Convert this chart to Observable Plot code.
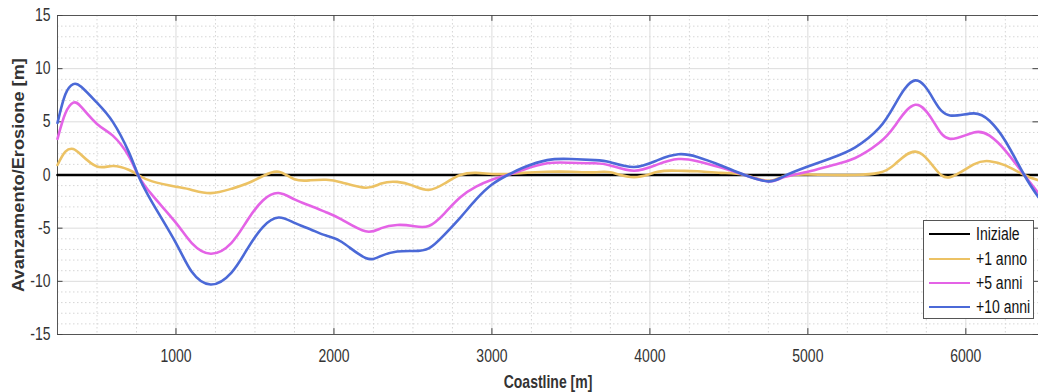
<!DOCTYPE html>
<html>
<head>
<meta charset="utf-8">
<script src="https://cdn.jsdelivr.net/npm/d3@7"></script>
<script src="https://cdn.jsdelivr.net/npm/@observablehq/plot@0.6"></script>
<style>
  html, body { margin: 0; padding: 0; background: #fff; }
  #wrap { position: relative; width: 1038px; height: 392px; font-family: "Liberation Sans", Arial, sans-serif; }
  .chart g[aria-label$="axis label"] { font-weight: bold; }
  #legend { position: absolute; left: 923px; top: 220px; width: 109px; height: 97px; border: 1px solid #555; background: #fff; font-size: 14px; color: #111; }
  #legend .row { position: absolute; left: 5px; height: 20px; display: flex; align-items: center; }
  #legend .sw { width: 41px; height: 0; border-top: 2.6px solid; margin-right: 6px; }
  #legend .lab { display: inline-block; transform: scaleY(1.25); }
</style>
</head>
<body>
<div id="wrap"></div>
<script>
// ---- data ----
const coastline = [250, 300, 350, 400, 500, 600, 700, 760, 850, 1000, 1100, 1220, 1350, 1450, 1550, 1650, 1750, 1850, 1950, 2050, 2200, 2300, 2400, 2500, 2600, 2700, 2800, 2900, 3000, 3100, 3200, 3350, 3500, 3650, 3750, 3900, 4050, 4180, 4300, 4450, 4600, 4750, 4850, 5000, 5150, 5300, 5450, 5550, 5680, 5800, 5900, 6050, 6150, 6250, 6370, 6460];
const anno1 = [0.94, 2.2, 2.45, 1.9, 0.8, 0.85, 0.5, 0, -0.6, -1.1, -1.4, -1.7, -1.3, -0.8, -0.1, 0.3, -0.4, -0.5, -0.45, -0.7, -1.2, -0.8, -0.65, -1.0, -1.4, -0.8, 0, 0.2, 0.1, 0.1, 0.2, 0.3, 0.3, 0.25, 0.25, -0.2, 0.3, 0.4, 0.35, 0.2, 0, -0.55, -0.1, 0.05, 0, 0, 0.2, 1.0, 2.2, 0.7, -0.2, 1.0, 1.3, 0.9, 0, -0.5];
const anni5 = [3.4, 5.8, 6.8, 6.4, 4.8, 3.7, 1.8, 0, -1.9, -4.5, -6.4, -7.4, -6.4, -4.3, -2.4, -1.7, -2.3, -2.9, -3.5, -4.2, -5.3, -5.0, -4.7, -4.8, -4.8, -3.6, -2.1, -1.1, -0.45, 0, 0.5, 1.1, 1.15, 1.1, 0.9, 0.4, 1.0, 1.5, 1.3, 0.7, 0, -0.6, -0.2, 0.3, 0.9, 1.6, 3.0, 4.6, 6.6, 4.9, 3.4, 4.0, 3.7, 2.3, 0, -1.7];
const anni10 = [4.9, 7.6, 8.55, 8.3, 6.8, 5.0, 2.2, 0, -2.6, -6.4, -9.1, -10.3, -9.2, -7.0, -4.9, -4.0, -4.5, -5.1, -5.7, -6.3, -7.8, -7.6, -7.2, -7.15, -6.9, -5.6, -4.0, -2.3, -0.9, 0, 0.7, 1.4, 1.5, 1.4, 1.2, 0.75, 1.4, 1.95, 1.7, 0.9, 0, -0.6, -0.1, 0.8, 1.6, 2.6, 4.4, 6.6, 8.9, 7.0, 5.6, 5.8, 5.1, 3.2, 0, -2.1];
const inizialeX = [250, 6460];
const inizialeY = [0, 0];

const seriesNames = ["Iniziale", "+1 anno", "+5 anni", "+10 anni"];
const seriesColors = ["#000000", "#ECC264", "#E463E6", "#4B69D7"];

const xTicks = [1000, 2000, 3000, 4000, 5000, 6000];
const yTicks = [-15, -10, -5, 0, 5, 10, 15];
const xMinor = [500, 750, 1250, 1500, 1750, 2250, 2500, 2750, 3250, 3500, 3750, 4250, 4500, 4750, 5250, 5500, 5750, 6250];
const yMinor = [-14, -13, -12, -11, -9, -8, -7, -6, -4, -3, -2, -1, 1, 2, 3, 4, 6, 7, 8, 9, 11, 12, 13, 14];

// ---- build tables ----
const rows = (ys, name) => coastline.map((x, i) => ({x, y: ys[i], name}));
const data = [
  ...rows(anno1, seriesNames[1]),
  ...rows(anni5, seriesNames[2]),
  ...rows(anni10, seriesNames[3])
];
const iniziale = inizialeX.map((x, i) => ({x, y: inizialeY[i]}));

const xDomain = [250, 6460];
const yDomain = [-15, 15];

const chart = Plot.plot({
  className: "chart",
  width: 1038,
  height: 392,
  marginLeft: 57,
  marginTop: 15,
  marginBottom: 58,
  marginRight: 0,
  style: {fontFamily: '"Liberation Sans", Arial, sans-serif', fontSize: "14px", color: "#333", background: "#fff"},
  x: {domain: xDomain, ticks: xTicks, tickSize: 0, tickPadding: 15, tickFormat: d => String(d), label: "Coastline [m]", labelAnchor: "center", labelOffset: 53, labelArrow: "none"},
  y: {domain: yDomain, ticks: yTicks, tickSize: 0, tickPadding: 7, tickFormat: d => String(d), label: "Avanzamento/Erosione [m]", labelAnchor: "center", labelOffset: 45, labelArrow: "none"},
  color: {domain: seriesNames, range: seriesColors},
  marks: [
    Plot.ruleX(xMinor, {stroke: "#d6d6d6", strokeDasharray: "1.5,2.5", strokeWidth: 1}),
    Plot.ruleY(yMinor, {stroke: "#d6d6d6", strokeDasharray: "1.5,2.5", strokeWidth: 1}),
    Plot.ruleX(xTicks, {stroke: "#dcdcdc", strokeWidth: 1}),
    Plot.ruleY(yTicks, {stroke: "#dcdcdc", strokeWidth: 1}),
    Plot.frame({stroke: "#555", strokeWidth: 1}),
    Plot.ruleX(xTicks, {x: d => d, y1: -15, y2: -14.45, stroke: "#444"}),
    Plot.ruleX(xTicks, {x: d => d, y1: 15, y2: 14.45, stroke: "#444"}),
    Plot.ruleY(yTicks, {y: d => d, x1: 250, x2: 285, stroke: "#444"}),
    Plot.ruleY(yTicks, {y: d => d, x1: 6460, x2: 6425, stroke: "#444"}),
    Plot.line(iniziale, {x: "x", y: "y", stroke: seriesColors[0], strokeWidth: 2.6}),
    Plot.line(data, {x: "x", y: "y", z: "name", stroke: "name", strokeWidth: 2.6, curve: "natural"})
  ]
});

// the reference text is vertically stretched; mimic it
chart.querySelectorAll('g[aria-label$="tick label"] text, g[aria-label="x-axis label"] text').forEach(t => {
  t.setAttribute("transform", (t.getAttribute("transform") || "") + " scale(1,1.25)");
});
chart.querySelectorAll('g[aria-label="y-axis label"] text').forEach(t => {
  t.setAttribute("transform", (t.getAttribute("transform") || "") + " scale(1.3,1.15)");
});

const wrap = document.getElementById("wrap");
wrap.appendChild(chart);

const legend = document.createElement("div");
legend.id = "legend";
const rowTops = [3, 28, 52, 76];
seriesNames.forEach((name, i) => {
  const row = document.createElement("div");
  row.className = "row";
  row.style.top = rowTops[i] + "px";
  const sw = document.createElement("div");
  sw.className = "sw";
  sw.style.borderTopColor = seriesColors[i];
  const t = document.createElement("span");
  t.className = "lab";
  t.textContent = name;
  row.appendChild(sw);
  row.appendChild(t);
  legend.appendChild(row);
});
wrap.appendChild(legend);
</script>
</body>
</html>
